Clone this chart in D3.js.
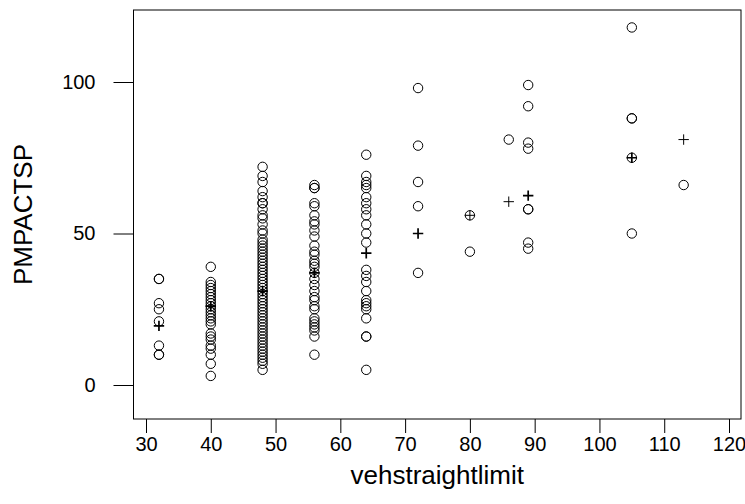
<!DOCTYPE html>
<html>
<head>
<meta charset="utf-8">
<script src="https://cdn.jsdelivr.net/npm/d3@7"></script>
<style>
  body { margin: 0; background: #fff; }
  text { font-family: "Liberation Sans", Arial, sans-serif; fill: #000; }
</style>
</head>
<body>
<svg id="chart" width="745" height="504"></svg>
<script>
// speed limit groups and the PMPACTSP values observed in each one
var speedLimits = [32, 40, 48, 56, 64, 72, 80, 86, 89, 105, 113];
var pmpactsp = [
  [35, 35, 27, 25, 21, 13, 10, 10],
  [39, 34, 33, 32, 31, 30, 29, 28, 27, 26, 25, 24, 23, 22, 21, 20, 17, 16, 15, 13, 12, 10, 7, 3],
  [72, 69, 67, 64, 62, 60, 60, 58, 56, 55, 53, 51, 50, 48, 47, 46, 45, 44, 43, 42, 41, 40, 39, 38,
   37, 36, 35, 34, 33, 32, 31, 30, 29, 28, 27, 26, 25, 24, 23, 22, 21, 20, 19, 18, 17, 16, 15, 14,
   13, 12, 11, 10, 9, 8, 7, 5],
  [66, 65, 65, 60, 59, 56, 54, 53, 51, 49, 46, 44, 43, 41, 40, 39, 37, 35, 33, 31, 29, 28, 26, 25,
   22, 21, 20, 19, 18, 16, 10],
  [76, 69, 67, 66, 65, 62, 60, 58, 56, 53, 50, 47, 38, 36, 34, 31, 28, 27, 26, 25, 22, 16, 16, 5],
  [98, 79, 67, 59, 37],
  [56, 44],
  [81],
  [99, 92, 80, 78, 58, 58, 47, 45],
  [118, 88, 88, 75, 50],
  [66]
];
// the "+" marks drawn at each group
var groupMeans = [19.5, 26, 31, 37, 43.5, 50, 56, 60.5, 62.5, 75, 81];

var xTicks = [30, 40, 50, 60, 70, 80, 90, 100, 110, 120];
var yTicks = [0, 50, 100];

var svg = d3.select("#chart");

var box = { left: 133.5, right: 741, top: 10, bottom: 419 };

var x = d3.scaleLinear().domain([30, 120]).range([146, 729]);
var y = d3.scaleLinear().domain([0, 100]).range([385, 82]);

// flatten the groups into points
var points = [];
speedLimits.forEach(function (s, i) {
  pmpactsp[i].forEach(function (v) {
    points.push({ x: s, y: v });
  });
});

/************************* AXES ******************************/

var xAxis = svg.append("g")
  .attr("transform", "translate(0," + box.bottom + ")")
  .call(d3.axisBottom(x).tickValues(xTicks).tickSize(14).tickPadding(4));

var yAxis = svg.append("g")
  .attr("transform", "translate(" + box.left + ",0)")
  .call(d3.axisLeft(y).tickValues(yTicks).tickSize(20).tickPadding(18));

[xAxis, yAxis].forEach(function (a) {
  a.select(".domain").remove();
  a.selectAll("line").attr("stroke", "#000").attr("stroke-width", 1);
  a.selectAll("text").style("font-size", "20px").attr("fill", "#000");
});

svg.append("rect")
  .attr("x", box.left)
  .attr("y", box.top)
  .attr("width", box.right - box.left)
  .attr("height", box.bottom - box.top)
  .attr("fill", "none")
  .attr("stroke", "#000")
  .attr("stroke-width", 1);

svg.append("text")
  .attr("x", (box.left + box.right) / 2)
  .attr("y", 484)
  .attr("text-anchor", "middle")
  .style("font-size", "26px")
  .text("vehstraightlimit");

svg.append("text")
  .attr("transform", "translate(32," + ((box.top + box.bottom) / 2) + ") rotate(-90)")
  .attr("text-anchor", "middle")
  .style("font-size", "26px")
  .text("PMPACTSP");

/************************* POINTS ******************************/

svg.append("g")
  .selectAll("circle")
  .data(points)
  .enter()
  .append("circle")
  .attr("cx", function (d) { return x(d.x) })
  .attr("cy", function (d) { return y(d.y) })
  .attr("r", 4.7)
  .attr("fill", "none")
  .attr("stroke", "#000")
  .attr("stroke-width", 1);

// mean crosses, heavier where the group is larger
var crosses = svg.append("g")
  .selectAll("path")
  .data(groupMeans)
  .enter()
  .append("path")
  .attr("d", function (m, i) {
    var cx = x(speedLimits[i]), cy = y(m), h = 5.2;
    return "M" + (cx - h) + "," + cy + "H" + (cx + h) + "M" + cx + "," + (cy - h) + "V" + (cy + h);
  })
  .attr("fill", "none")
  .attr("stroke", "#000")
  .attr("stroke-width", function (m, i) { return pmpactsp[i].length >= 3 ? 1.7 : 1 });
</script>
</body>
</html>
